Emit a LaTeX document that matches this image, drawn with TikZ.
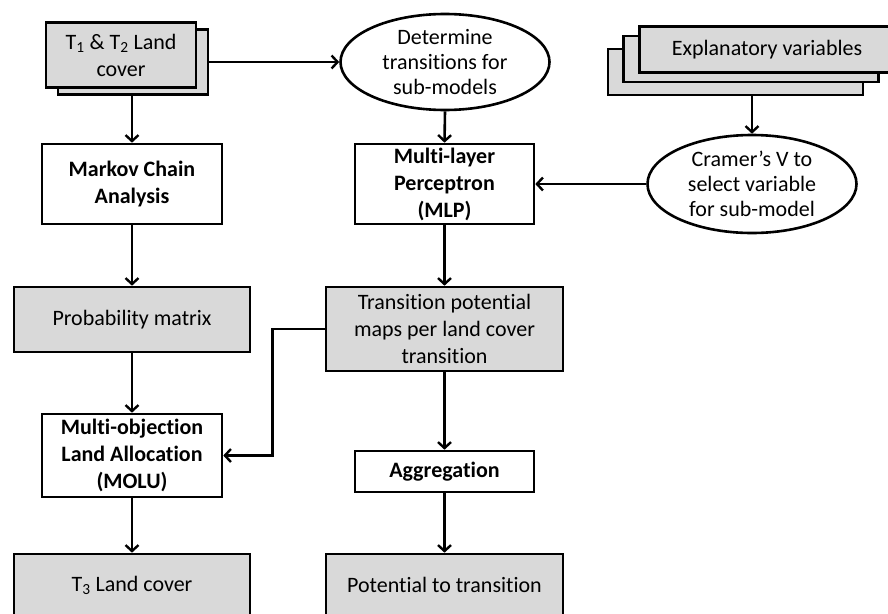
\documentclass[tikz,border=0pt]{standalone}
\usepackage{fontspec}
\setmainfont[Ligatures={NoCommon}]{Carlito}
\usetikzlibrary{shapes.geometric,arrows.meta}
\definecolor{boxgray}{RGB}{217,217,217}
\begin{document}
\begin{tikzpicture}[x=1pt,y=-1pt,
  box/.style={draw,line width=2.6pt,align=center,inner sep=2pt,font=\fontsize{22}{27}\selectfont},
  graybox/.style={box,fill=boxgray},
  whitebox/.style={box,fill=white,font=\fontsize{22}{27}\selectfont\bfseries},
  oval/.style={ellipse,draw,line width=2.6pt,fill=white,align=center,inner sep=0pt,font=\fontsize{22}{25}\selectfont},
  arr/.style={line width=2.6pt,-{Straight Barb[length=6pt,width=13pt,line width=2.4pt]}}]
\path[use as bounding box] (0,0) rectangle (888,613);

% inputs
\node[graybox,minimum width=150pt,minimum height=65pt] (t12b) at (133,62) {};
\node[graybox,minimum width=150pt,minimum height=65pt] (t12) at (121,55) {T\textsubscript{1} \& T\textsubscript{2} Land\\cover};
\node[graybox,minimum width=255pt,minimum height=46pt] (expc) at (735.5,72) {};
\node[graybox,minimum width=255pt,minimum height=46pt] (expb) at (751,59) {};
\node[graybox,minimum width=255pt,minimum height=46pt] (expa) at (767,49.5) {Explanatory variables};

% ellipses
\node[oval,minimum width=209pt,minimum height=96pt] (det) at (445,62) {Determine\\transitions for\\sub-models};
\node[oval,minimum width=209pt,minimum height=98pt] (cram) at (752,184) {Cramer’s V to\\select variable\\for sub-model};

% left column
\node[whitebox,minimum width=180pt,minimum height=80pt] (mca) at (132,184) {Markov Chain\\Analysis};
\node[graybox,minimum width=236pt,minimum height=65pt] (prob) at (132,319.5) {Probability matrix};
\node[whitebox,minimum width=180pt,minimum height=83pt] (molu) at (132,455.5) {Multi-objection\\Land Allocation\\(MOLU)};
\node[graybox,minimum width=236pt,minimum height=62pt] (t3) at (132,585) {T\textsubscript{3} Land cover};

% middle column
\node[whitebox,minimum width=179pt,minimum height=80pt] (mlp) at (444.5,184) {Multi-layer\\Perceptron\\(MLP)};
\node[graybox,minimum width=237pt,minimum height=84pt] (tp) at (444.5,329) {Transition potential\\maps per land cover\\transition};
\node[whitebox,minimum width=179pt,minimum height=41pt] (agg) at (444.5,471.5) {Aggregation};
\node[graybox,minimum width=237pt,minimum height=62pt] (pot) at (444.5,585) {Potential to transition};

% connectors
\draw[arr] (t12b.east) -- (det.west);
\draw[arr] (mca.north |- t12b.south) -- (mca.north);
\draw[arr] (cram.north |- expc.south) -- (cram.north);
\draw[arr] (cram.west) -- (mlp.east);
\draw[arr] (det.south) -- (mlp.north);
\draw[arr] (mca.south) -- (prob.north);
\draw[arr] (prob.south) -- (molu.north);
\draw[arr] (molu.south) -- (t3.north);
\draw[arr] (mlp.south) -- (tp.north);
\draw[arr] (tp.west) -- ++(-52,0) |- (molu.east);
\draw[arr] (tp.south) -- (agg.north);
\draw[arr] (agg.south) -- (pot.north);
\end{tikzpicture}
\end{document}
